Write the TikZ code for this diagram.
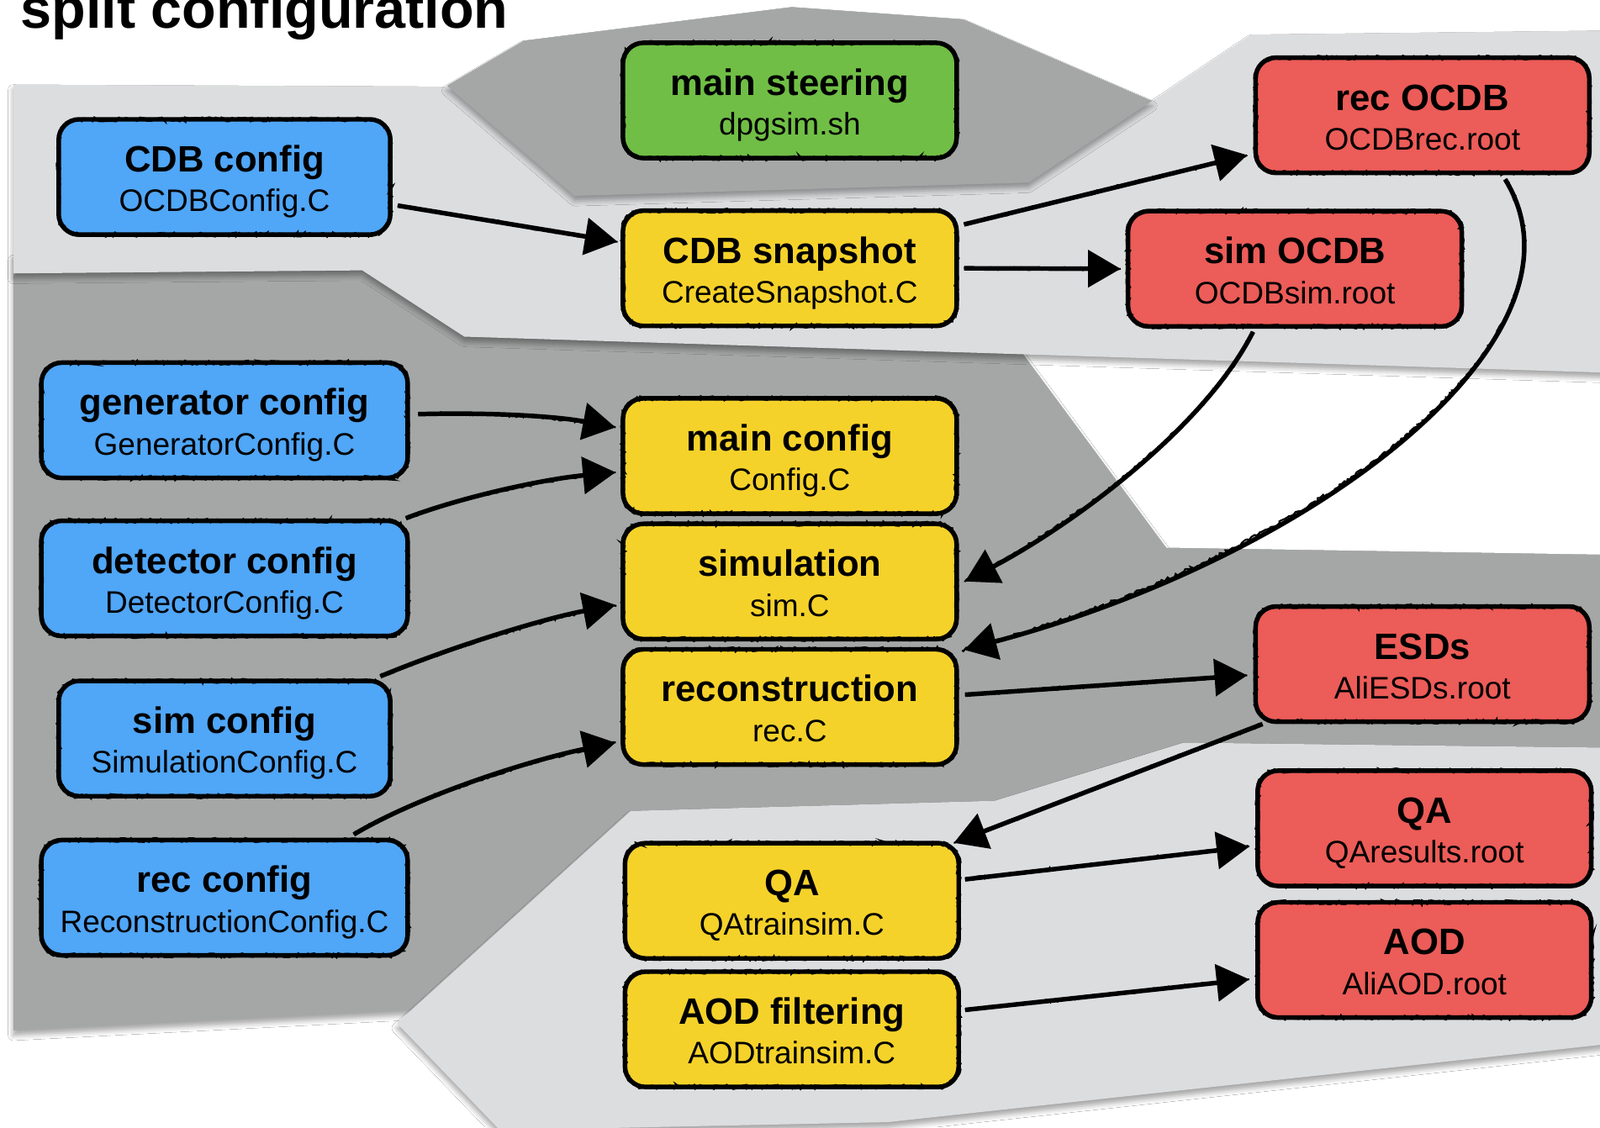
\documentclass[tikz,border=0pt]{standalone}
\usepackage{fontspec}
\setmainfont{Liberation Sans}
\usetikzlibrary{arrows.meta,calc,decorations.pathmorphing,shadows.blur}
\definecolor{lightg}{RGB}{220,221,223}
\definecolor{darkg}{RGB}{164,167,166}
\definecolor{bblue}{RGB}{80,166,247}
\definecolor{bgreen}{RGB}{112,190,70}
\definecolor{byellow}{RGB}{245,210,42}
\definecolor{bred}{RGB}{236,92,88}
\tikzset{
 box/.style={rectangle, rounded corners=20pt, draw=black, line width=4.5pt, minimum height=113pt, inner sep=0pt,
   postaction={draw=black, line width=2.4pt, sharp corners, decorate, decoration={random steps, segment length=2.5pt, amplitude=1.7pt}}},
 ttl/.style={font=\bfseries\fontsize{36}{40}\selectfont, inner sep=0pt},
 subt/.style={font=\fontsize{30.5}{34}\selectfont, inner sep=0pt},
 conn/.style={line width=4.5pt, draw=black, -{Triangle[length=32pt,width=36pt,fill=black]},
   postaction={draw=black, -, line width=1.8pt, decorate, decoration={random steps, segment length=2.5pt, amplitude=1.5pt}}},
 band/.style={blur shadow={shadow xshift=0pt, shadow yshift=-5pt, shadow blur radius=5pt, shadow opacity=35}},
}
\newcommand{\mybox}[7]{%
 \node[box, fill=#5, minimum width=#4pt] (#1) at (#2,#3) {};
 \node[ttl, anchor=base] (#1-t) at ($(#1.center)+(0,-5)$) {#6};
 \node[subt, anchor=base] (#1-s) at ($(#1.center)+(0,34)$) {#7};
}
\begin{document}
\begin{tikzpicture}[x=1pt,y=-1pt]
\useasboundingbox (0,0) rectangle (1568,1105);
\clip (0,0) rectangle (1568,1105);
\fill[white] (0,0) rectangle (1568,1105);
% backgrounds
\fill[darkg, band] (13,250) -- (600,250) -- (990,330) -- (1143,537) -- (1580,544) -- (1580,760) -- (700,820) -- (500,985) -- (13,1010) -- cycle;
\fill[lightg, band] (13,83) -- (438,85) -- (1129,99) -- (1226,34) -- (1580,30) -- (1580,365.5) -- (455,330) -- (355,265) -- (13,268) -- cycle;
\fill[darkg, band] (438,84) -- (513,40) -- (776,7) -- (944,19) -- (1129,99) -- (1008,179) -- (563,192) -- cycle;
\fill[lightg, band] (1580,733) -- (1160,728) -- (975,785) -- (618,795) -- (389,1003) -- (490,1108) -- (870,1100) -- (1580,1023) -- cycle;
% title
\node[anchor=base west, inner sep=0pt, font=\bfseries\fontsize{54.8}{60}\selectfont] (title) at (20,28) {split configuration};
% boxes
\mybox{cdbcfg}{220}{173.5}{325}{bblue}{CDB config}{OCDBConfig.C}
\mybox{steer}{774}{98.5}{327}{bgreen}{main steering}{dpgsim.sh}
\mybox{snap}{774}{263}{327}{byellow}{CDB snapshot}{CreateSnapshot.C}
\mybox{recocdb}{1394}{113}{327}{bred}{rec OCDB}{OCDBrec.root}
\mybox{simocdb}{1269}{263.5}{327}{bred}{sim OCDB}{OCDBsim.root}
\mybox{gen}{220}{412}{359}{bblue}{generator config}{GeneratorConfig.C}
\mybox{det}{220}{567}{359}{bblue}{detector config}{DetectorConfig.C}
\mybox{simcfg}{220}{724}{325}{bblue}{sim config}{SimulationConfig.C}
\mybox{reccfg}{220}{880}{359}{bblue}{rec config}{ReconstructionConfig.C}
\mybox{maincfg}{774}{447}{327}{byellow}{main config}{Config.C}
\mybox{simu}{774}{570}{327}{byellow}{simulation}{sim.C}
\mybox{recon}{774}{693}{327}{byellow}{reconstruction}{rec.C}
\mybox{esd}{1394}{651}{327}{bred}{ESDs}{AliESDs.root}
\mybox{qar}{1396}{812}{327}{bred}{QA}{QAresults.root}
\mybox{aodr}{1396}{941}{327}{bred}{AOD}{AliAOD.root}
\mybox{qay}{776}{883}{327}{byellow}{QA}{QAtrainsim.C}
\mybox{aodf}{776}{1009}{327}{byellow}{AOD filtering}{AODtrainsim.C}
% connectors
\draw[conn] ($(cdbcfg.east)+(5,28)$) -- ($(snap.west)+(-3,-26)$);
\draw[conn] ($(snap.east)+(5,-43)$) -- ($(recocdb.west)+(-6,39)$);
\draw[conn] ($(snap.east)+(5,0)$) -- ($(simocdb.west)+(-5,0)$);
\draw[conn] ($(gen.east)+(8,-6)$) .. controls (480,404) and (545,408) .. ($(maincfg.west)+(-5,-28)$);
\draw[conn] ($(det.east)+(-4,-59)$) .. controls (450,488) and (530,470) .. ($(maincfg.west)+(-5,16)$);
\draw[conn] ($(simcfg.east)+(-12,-61)$) .. controls (440,635) and (530,607) .. ($(simu.west)+(-5,23)$);
\draw[conn] ($(reccfg.east)+(-55,-62)$) .. controls (410,780) and (520,745) .. ($(recon.west)+(-5,35)$);
\draw[conn] ($(simocdb.south)+(-41,3)$) .. controls (1180,420) and (1050,515) .. ($(simu.east)+(6,0)$);
\draw[conn] ($(recocdb.south)+(81,4)$) .. controls (1570,330) and (1290,545) .. ($(recon.east)+(5,-56)$);
\draw[conn] ($(recon.east)+(6,-12)$) -- ($(esd.west)+(-6,11)$);
\draw[conn] ($(esd.south west)+(9,0)$) -- ($(qay.north east)+(-7,2)$);
\draw[conn] ($(qay.east)+(4,-21)$) -- ($(qar.west)+(-6,18)$);
\draw[conn] ($(aodf.east)+(4,-19)$) -- ($(aodr.west)+(-6,19)$);
\end{tikzpicture}
\end{document}
